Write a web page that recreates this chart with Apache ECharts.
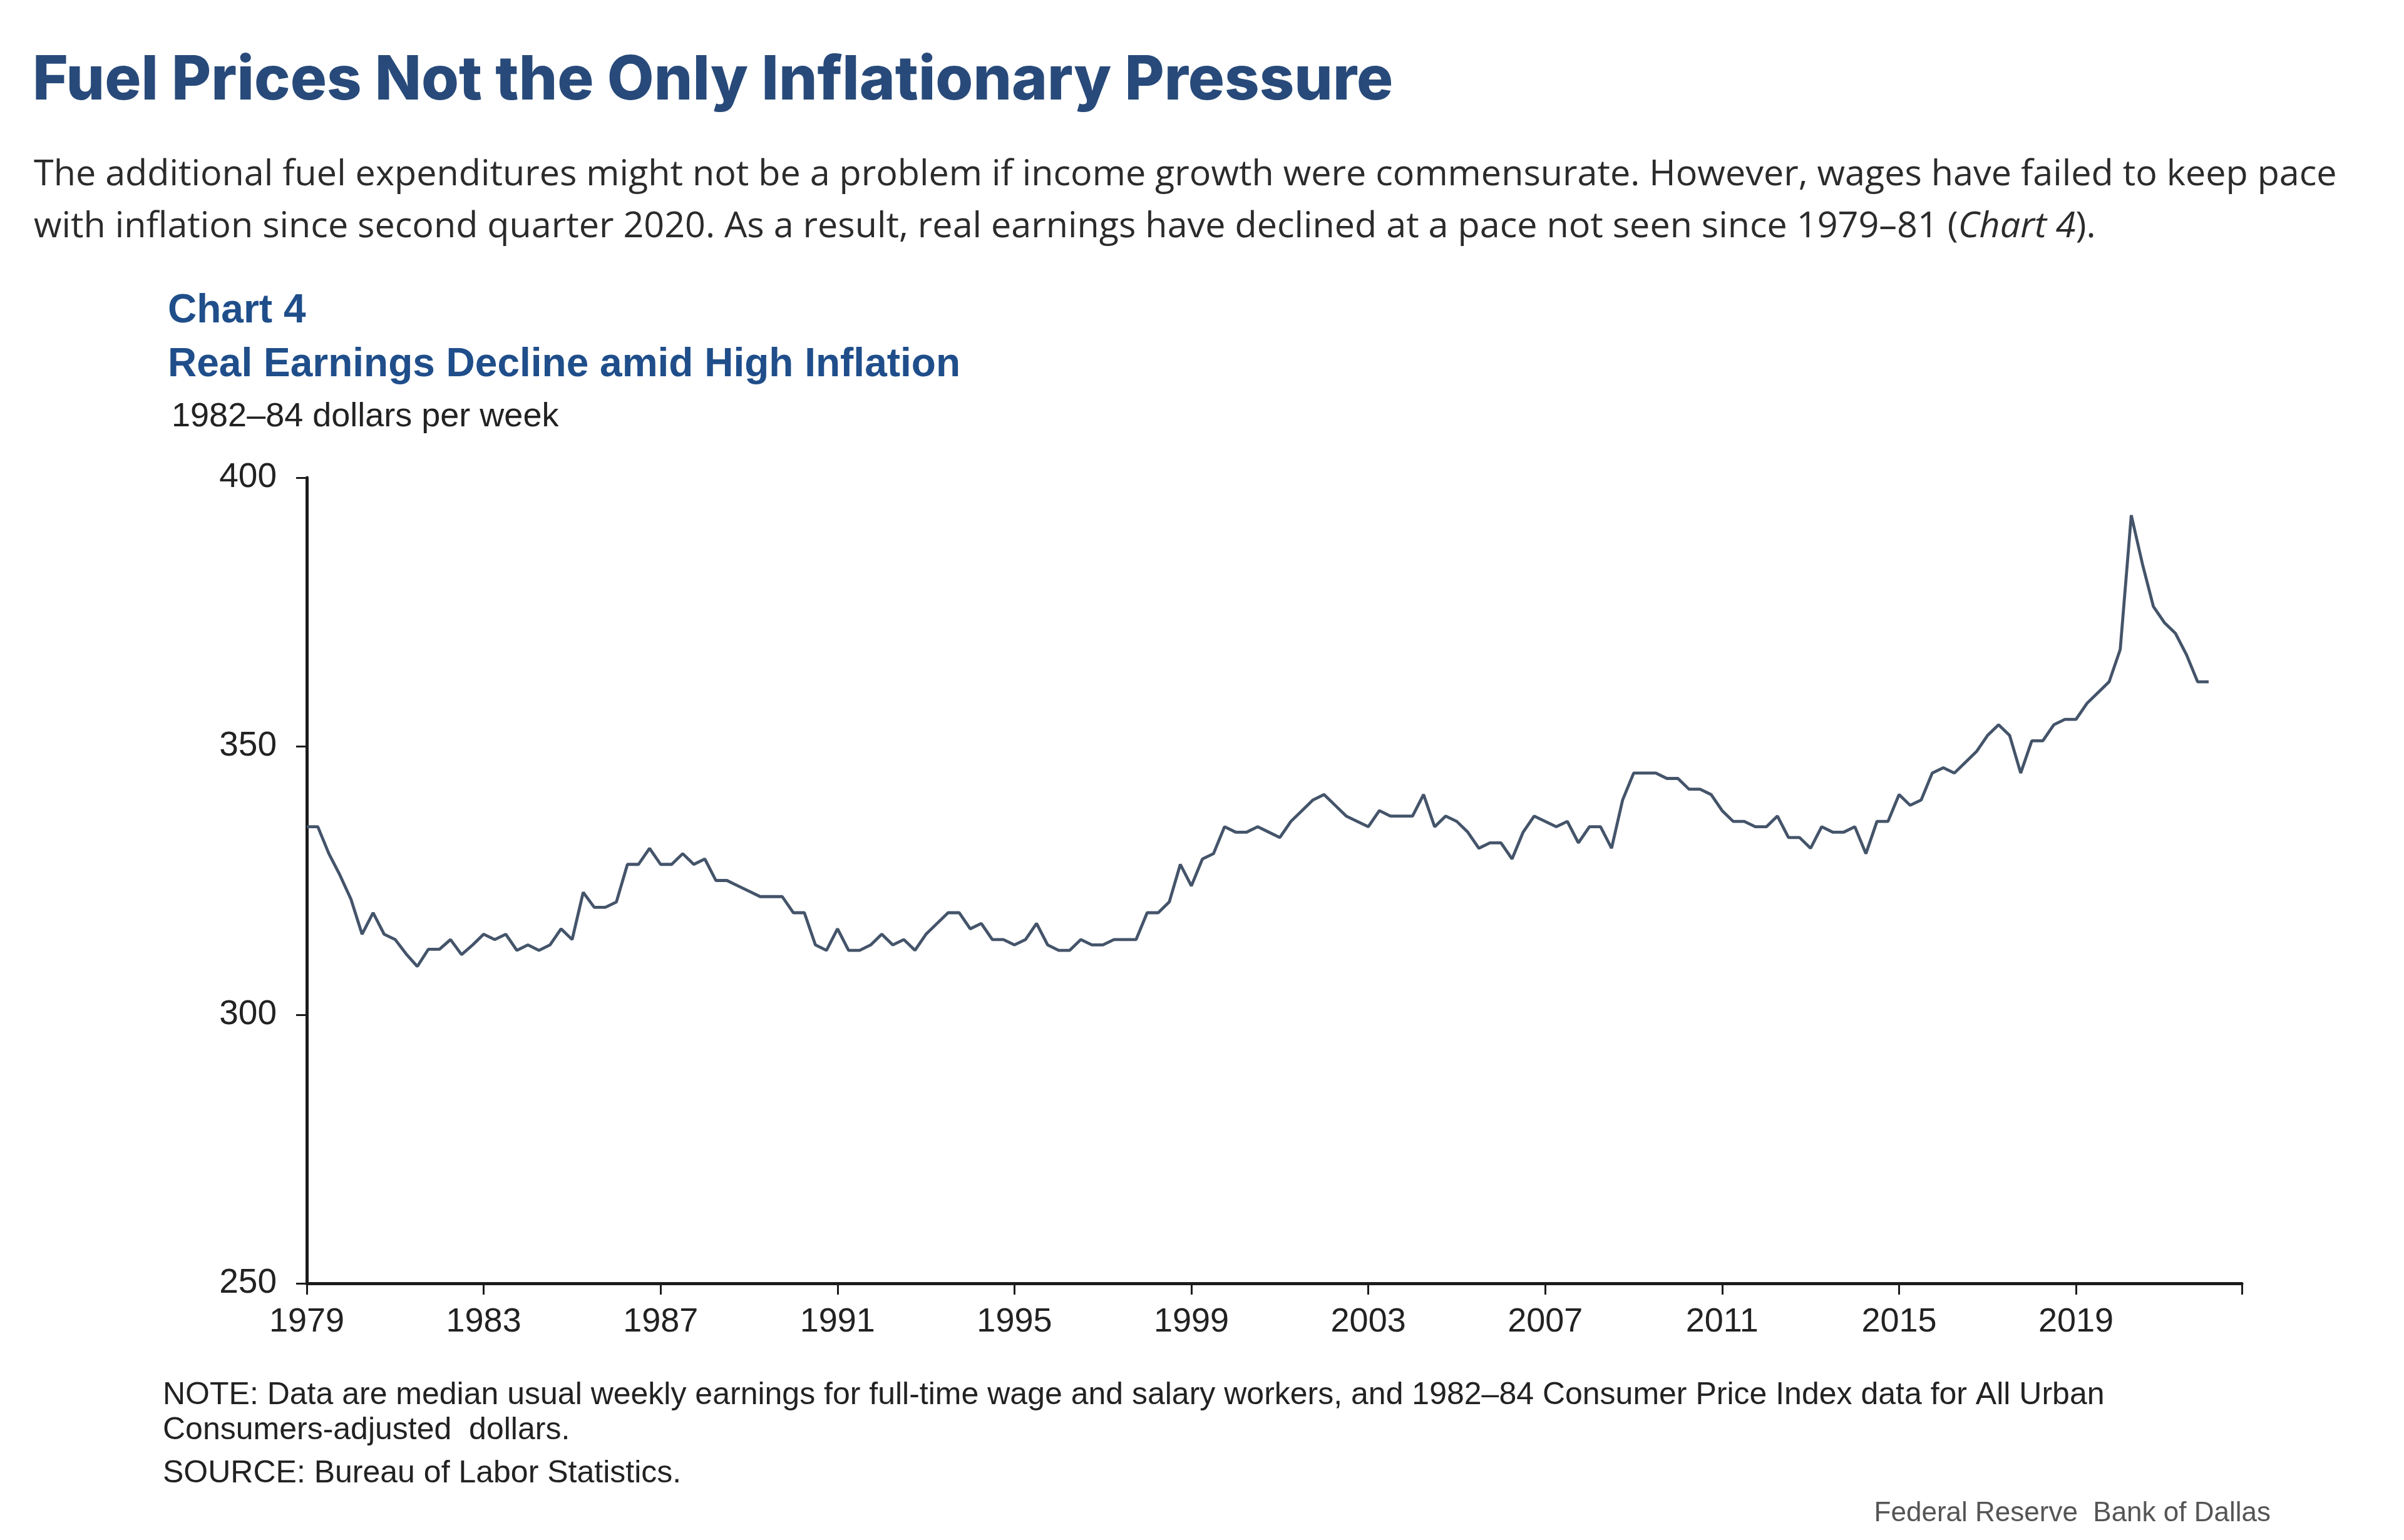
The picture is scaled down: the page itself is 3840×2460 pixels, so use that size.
<!DOCTYPE html>
<html>
<head>
<meta charset="utf-8">
<script src="https://cdn.jsdelivr.net/npm/echarts/dist/echarts.min.js"></script>
<style>
  html, body { margin: 0; padding: 0; background: #ffffff; }
  #chart { width: 3840px; height: 2460px; }
</style>
</head>
<body>
<div id="chart"></div>
<script>
// ---- Data (quarterly, 1979Q1 – 2022Q1), 1982–84 dollars per week ----
const years = [];
for (let y = 1979; y <= 2022; y++) years.push(y);
const quarters = ['Q1', 'Q2', 'Q3', 'Q4'];

const earnings = [
  335, 335, 330, 326, 321.5, 315, 319, 315, 314, 311.3,
  309, 312.2, 312.2, 314, 311.2, 313, 315, 314, 315, 312,
  313, 312, 313, 316, 314, 322.8, 320, 320, 321, 328,
  328, 331, 328, 328, 330, 328, 329, 325, 325, 324,
  323, 322, 322, 322, 319, 319, 313, 312, 316, 312,
  312, 313, 315, 313, 314, 312, 315, 317, 319, 319,
  316, 317, 314, 314, 313, 314, 317, 313, 312, 312,
  314, 313, 313, 314, 314, 314, 319, 319, 321, 328,
  324, 329, 330, 335, 334, 334, 335, 334, 333, 336,
  338, 340, 341, 339, 337, 336, 335, 338, 337, 337,
  337, 341, 335, 337, 336, 334, 331, 332, 332, 329,
  334, 337, 336, 335, 336, 332, 335, 335, 331, 340,
  345, 345, 345, 344, 344, 342, 342, 341, 338, 336,
  336, 335, 335, 337, 333, 333, 331, 335, 334, 334,
  335, 330, 336, 336, 341, 339, 340, 345, 346, 345,
  347, 349, 352, 354, 352, 345, 351, 351, 354, 355,
  355, 358, 360, 362, 368, 393, 384, 376, 373, 371,
  367, 362, 362
];

const xTickLabels = ['1979', '1983', '1987', '1991', '1995', '1999', '2003', '2007', '2011', '2015', '2019'];
const yTicks = [250, 300, 350, 400];

// categories built from years × quarters (1979Q1 … 2022Q4)
const categories = [];
years.forEach(y => quarters.forEach(q => categories.push(y + q)));
const lastIndex = categories.length - 1;

const BLUE_TITLE = '#284a7a';
const BLUE_CHART = '#1f4e8a';
const TEXT = '#222222';
const AXIS = '#1c1c1c';

const chart = echarts.init(document.getElementById('chart'), null, { renderer: 'canvas' });

const option = {
  backgroundColor: '#ffffff',
  animation: false,
  title: [
    {
      text: 'Fuel Prices Not the Only Inflationary Pressure',
      left: 52, top: 81, padding: 0,
      textStyle: { fontFamily: 'Inter', fontWeight: 800, fontSize: 97, color: BLUE_TITLE }
    },
    {
      text: 'The additional fuel expenditures might not be a problem if income growth were commensurate. However, wages have failed to keep pace',
      left: 54, top: 251, padding: 0,
      textStyle: { fontFamily: 'Open Sans', fontWeight: 'normal', fontSize: 57.5, color: '#2b2b2b' }
    },
    {
      text: 'with inflation since second quarter 2020. As a result, real earnings have declined at a pace not seen since 1979–81 ({it|Chart 4}).',
      left: 54, top: 334, padding: 0,
      textStyle: {
        fontFamily: 'Open Sans', fontWeight: 'normal', fontSize: 57.5, color: '#2b2b2b',
        rich: { it: { fontFamily: 'Open Sans', fontStyle: 'italic', fontSize: 57.5, color: '#2b2b2b' } }
      }
    },
    {
      text: 'Chart 4',
      left: 268, top: 465, padding: 0,
      textStyle: { fontFamily: 'Liberation Sans', fontWeight: 'bold', fontSize: 64, color: BLUE_CHART }
    },
    {
      text: 'Real Earnings Decline amid High Inflation',
      left: 268, top: 551, padding: 0,
      textStyle: { fontFamily: 'Liberation Sans', fontWeight: 'bold', fontSize: 64, color: BLUE_CHART }
    },
    {
      text: '1982–84 dollars per week',
      left: 274, top: 639, padding: 0,
      textStyle: { fontFamily: 'Liberation Sans', fontWeight: 'normal', fontSize: 54, color: TEXT }
    },
    {
      text: 'NOTE: Data are median usual weekly earnings for full-time wage and salary workers, and 1982–84 Consumer Price Index data for All Urban',
      left: 260, top: 2204, padding: 0,
      textStyle: { fontFamily: 'Liberation Sans', fontWeight: 'normal', fontSize: 50, color: TEXT }
    },
    {
      text: 'Consumers-adjusted  dollars.',
      left: 260, top: 2260, padding: 0,
      textStyle: { fontFamily: 'Liberation Sans', fontWeight: 'normal', fontSize: 50, color: TEXT }
    },
    {
      text: 'SOURCE: Bureau of Labor Statistics.',
      left: 260, top: 2329, padding: 0,
      textStyle: { fontFamily: 'Liberation Sans', fontWeight: 'normal', fontSize: 50, color: TEXT }
    },
    {
      text: 'Federal Reserve  Bank of Dallas',
      right: 213, top: 2396, padding: 0,
      textStyle: { fontFamily: 'Liberation Sans', fontWeight: 'normal', fontSize: 44, color: '#555555' }
    }
  ],
  grid: { left: 490, top: 763, width: 3091, height: 1287, containLabel: false },
  xAxis: {
    type: 'category',
    data: categories,
    boundaryGap: false,
    axisLine: { show: true, lineStyle: { color: AXIS, width: 5 } },
    axisTick: {
      show: true, length: 18, inside: false,
      interval: function (index) { return index % 16 === 0 || index === lastIndex; },
      lineStyle: { color: AXIS, width: 3 }
    },
    axisLabel: {
      show: true,
      interval: function (index) { return index % 16 === 0; },
      formatter: function (value) {
        const lbl = value.slice(0, 4);
        return xTickLabels.indexOf(lbl) >= 0 ? lbl : '';
      },
      margin: 35,
      fontFamily: 'Liberation Sans', fontSize: 54, color: TEXT
    },
    splitLine: { show: false }
  },
  yAxis: {
    type: 'value',
    min: yTicks[0], max: yTicks[yTicks.length - 1], interval: 50,
    axisLine: { show: true, lineStyle: { color: AXIS, width: 5 } },
    axisTick: { show: true, length: 17, inside: false, lineStyle: { color: AXIS, width: 3 } },
    axisLabel: {
      show: true, margin: 48,
      fontFamily: 'Liberation Sans', fontSize: 55, color: TEXT
    },
    splitLine: { show: false }
  },
  series: [
    {
      type: 'line',
      data: earnings,
      showSymbol: false,
      symbol: 'none',
      smooth: false,
      lineStyle: { color: '#44546a', width: 4.8 },
      z: 3
    }
  ]
};

chart.setOption(option);
</script>
</body>
</html>
